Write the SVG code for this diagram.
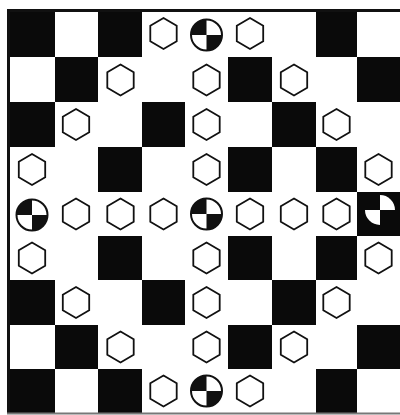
<svg xmlns="http://www.w3.org/2000/svg" xmlns:xlink="http://www.w3.org/1999/xlink" width="400" height="415" viewBox="0 0 400 415">
<style>
.blk{fill:#0a0a0a}
.hex{fill:#fff;stroke:#111;stroke-width:1.8}
.ring{fill:none;stroke:#111;stroke-width:2}
.q{fill:#111}
.qw{fill:#fff}
</style>
<defs>
<polygon id="hexShape" class="hex" points="0,-15.5 13.2,-7.75 13.2,7.75 0,15.5 -13.2,7.75 -13.2,-7.75"/>
<g id="quart">
<circle r="15.5" fill="#fff"/>
<path class="q" d="M0,0 L-15.5,0 A15.5,15.5 0 0 1 0,-15.5 Z"/>
<path class="q" d="M0,0 L15.5,0 A15.5,15.5 0 0 1 0,15.5 Z"/>
<circle r="15.5" class="ring"/>
</g>
</defs>
<rect width="400" height="415" fill="#fff"/>
<g id="board">
<g id="black-squares">
<rect class="blk" x="8" y="10" width="47" height="47"/>
<rect class="blk" x="98" y="10" width="44" height="47"/>
<rect class="blk" x="316" y="10" width="41" height="47"/>
<rect class="blk" x="55" y="57" width="43" height="45"/>
<rect class="blk" x="228" y="57" width="44" height="45"/>
<rect class="blk" x="357" y="57" width="43" height="45"/>
<rect class="blk" x="8" y="102" width="47" height="45"/>
<rect class="blk" x="142" y="102" width="43" height="45"/>
<rect class="blk" x="272" y="102" width="44" height="45"/>
<rect class="blk" x="98" y="147" width="44" height="45"/>
<rect class="blk" x="228" y="147" width="44" height="45"/>
<rect class="blk" x="316" y="147" width="41" height="45"/>
<rect class="blk" x="357" y="192" width="43" height="44"/>
<rect class="blk" x="98" y="236" width="44" height="44"/>
<rect class="blk" x="228" y="236" width="44" height="44"/>
<rect class="blk" x="316" y="236" width="41" height="44"/>
<rect class="blk" x="8" y="280" width="47" height="45"/>
<rect class="blk" x="142" y="280" width="43" height="45"/>
<rect class="blk" x="272" y="280" width="44" height="45"/>
<rect class="blk" x="55" y="325" width="43" height="44"/>
<rect class="blk" x="228" y="325" width="44" height="44"/>
<rect class="blk" x="357" y="325" width="43" height="44"/>
<rect class="blk" x="8" y="369" width="47" height="44"/>
<rect class="blk" x="98" y="369" width="44" height="44"/>
<rect class="blk" x="316" y="369" width="41" height="44"/>
</g>
<g id="frame">
<line x1="7" y1="10.5" x2="400" y2="10.5" stroke="#111" stroke-width="3"/>
<line x1="8.5" y1="9" x2="8.5" y2="413" stroke="#111" stroke-width="3"/>
<line x1="7" y1="413.5" x2="400" y2="413.5" stroke="#777" stroke-width="2"/>
</g>
</g>
<g id="hexagons">
<g id="h-0-3"><use xlink:href="#hexShape" x="163.5" y="33.5"/></g>
<g id="h-0-5"><use xlink:href="#hexShape" x="250" y="33.5"/></g>
<g id="h-1-2"><use xlink:href="#hexShape" x="120.5" y="80"/></g>
<g id="h-1-4"><use xlink:href="#hexShape" x="206.5" y="80"/></g>
<g id="h-1-6"><use xlink:href="#hexShape" x="294" y="80"/></g>
<g id="h-2-1"><use xlink:href="#hexShape" x="76" y="124.5"/></g>
<g id="h-2-4"><use xlink:href="#hexShape" x="206.5" y="124.5"/></g>
<g id="h-2-7"><use xlink:href="#hexShape" x="336.5" y="124.5"/></g>
<g id="h-3-0"><use xlink:href="#hexShape" x="32" y="169.5"/></g>
<g id="h-3-4"><use xlink:href="#hexShape" x="206.5" y="169.5"/></g>
<g id="h-3-8"><use xlink:href="#hexShape" x="378.5" y="169.5"/></g>
<g id="h-4-1"><use xlink:href="#hexShape" x="76" y="214"/></g>
<g id="h-4-2"><use xlink:href="#hexShape" x="120.5" y="214"/></g>
<g id="h-4-3"><use xlink:href="#hexShape" x="163.5" y="214"/></g>
<g id="h-4-5"><use xlink:href="#hexShape" x="250" y="214"/></g>
<g id="h-4-6"><use xlink:href="#hexShape" x="294" y="214"/></g>
<g id="h-4-7"><use xlink:href="#hexShape" x="336.5" y="214"/></g>
<g id="h-5-0"><use xlink:href="#hexShape" x="32" y="258"/></g>
<g id="h-5-4"><use xlink:href="#hexShape" x="206.5" y="258"/></g>
<g id="h-5-8"><use xlink:href="#hexShape" x="378.5" y="258"/></g>
<g id="h-6-1"><use xlink:href="#hexShape" x="76" y="302.5"/></g>
<g id="h-6-4"><use xlink:href="#hexShape" x="206.5" y="302.5"/></g>
<g id="h-6-7"><use xlink:href="#hexShape" x="336.5" y="302.5"/></g>
<g id="h-7-2"><use xlink:href="#hexShape" x="120.5" y="347"/></g>
<g id="h-7-4"><use xlink:href="#hexShape" x="206.5" y="347"/></g>
<g id="h-7-6"><use xlink:href="#hexShape" x="294" y="347"/></g>
<g id="h-8-3"><use xlink:href="#hexShape" x="163.5" y="391"/></g>
<g id="h-8-5"><use xlink:href="#hexShape" x="250" y="391"/></g>
</g>
<g id="circles">
<g id="c-0-4"><use xlink:href="#quart" x="206.5" y="35"/></g>
<g id="c-4-0"><use xlink:href="#quart" x="32" y="215"/></g>
<g id="c-4-4"><use xlink:href="#quart" x="206.5" y="214"/></g>
<g id="c-8-4"><use xlink:href="#quart" x="206.5" y="391"/></g>
<g id="c-4-8">
<path class="qw" d="M380,210 L380,195 A15,15 0 0 1 395,210 Z"/>
<path class="qw" d="M380,210 L380,225 A15,15 0 0 1 365,210 Z"/>
</g>
</g>
</svg>
